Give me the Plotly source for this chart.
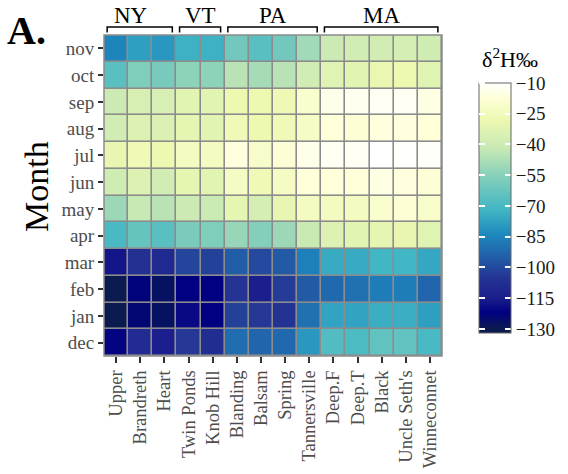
import plotly.graph_objects as go

# Sites (columns) grouped by state, months (rows, bottom to top)
sites = ["Upper", "Brandreth", "Heart", "Twin Ponds", "Knob Hill", "Blanding",
         "Balsam", "Spring", "Tannersville", "Deep.F", "Deep.T", "Black",
         "Uncle Seth's", "Winneconnet"]
months = ["dec", "jan", "feb", "mar", "apr", "may", "jun", "jul", "aug",
          "sep", "oct", "nov"]

states = ["NY", "VT", "PA", "MA"]
state_first = ["Upper", "Twin Ponds", "Blanding", "Deep.F"]
state_last = ["Heart", "Knob Hill", "Tannersville", "Winneconnet"]
state_label_shift = [-9, 0, 0, 0]

# Monthly precipitation d2H (per mil) by site
dec = [-121, -109, -115, -104, -108, -91, -93, -92, -80, -68, -69, -64, -64, -70]
jan = [-130, -124, -127, -120, -122, -102, -104, -106, -90, -77, -77, -74, -74, -78]
feb = [-130, -123, -127, -122, -122, -105, -115, -103, -96, -92, -90, -87, -87, -93]
mar = [-117, -107, -110, -101, -102, -95, -100, -96, -86, -75, -75, -72, -72, -76]
apr = [-70, -63, -66, -58, -57, -52, -56, -51, -41, -34, -32, -31, -30, -33]
may = [-51, -42, -45, -40, -40.5, -31, -37, -30, -24, -24, -24, -20, -18, -21]
jun = [-39, -34, -38, -31, -32, -23, -26, -23, -17, -17, -17, -15, -16, -18]
jul = [-30, -26, -28, -24, -24, -16, -21, -18, -14, -12, -12, -10, -10.5, -11]
aug = [-38, -34, -35, -31, -32, -26, -28, -26, -22, -17, -18, -16, -16, -17]
sep = [-40, -36, -36, -32, -32, -28, -28, -27, -20, -14, -13, -12, -12, -15]
oct = [-66, -57, -59, -54, -54, -45, -49, -45, -38, -33, -32, -29, -28, -33]
nov = [-85, -78, -80, -73, -73, -60, -66, -60, -50, -40, -38, -38, -37, -39]

z = [dec, jan, feb, mar, apr, may, jun, jul, aug, sep, oct, nov]

legend_ticks = [-10, -25, -40, -55, -70, -85, -100, -115, -130]
zmin, zmax = -132, -10

# Colour ramp anchored at d2H values
ramp = [(-132, "#0b1b4f"), (-130, "#0b1b4f"), (-122, "#000080"),
        (-115, "#1b1e8c"), (-105, "#253494"), (-95, "#225ea8"),
        (-84, "#1d88be"), (-72, "#41b6c4"), (-57, "#7fcdbb"),
        (-42, "#c7e9b4"), (-28, "#edf8b1"), (-17, "#ffffd9"), (-10, "#ffffff")]
colorscale = [[(v - zmin) / (zmax - zmin), c] for v, c in ramp]
clear_scale = [[0, "rgba(0,0,0,0)"], [1, "rgba(0,0,0,0)"]]

SERIF = "Liberation Serif"
W, H = 568, 474
ML, MR, MT, MB = 104, 126, 35, 118
PW, PH = W - ML - MR, H - MT - MB


def px_x(p):
    return (p - ML) / PW


def px_y(p):
    return (H - MB - p) / PH


cb_top, cb_len, cb_left, cb_thick = 83, 250, 479, 32
cb_y = px_y(cb_top + cb_len / 2)

fig = go.Figure(go.Heatmap(
    x=sites, y=months, z=z,
    zmin=zmin, zmax=zmax, colorscale=colorscale,
    xgap=1.6, ygap=1.6,
    colorbar=dict(
        thickness=cb_thick, thicknessmode="pixels",
        len=cb_len, lenmode="pixels",
        x=px_x(cb_left), xanchor="left", xpad=0,
        y=cb_y, yanchor="middle", ypad=0,
        outlinewidth=1, outlinecolor="#666666",
        tickmode="array", tickvals=legend_ticks,
        ticks="inside", ticklen=6, tickwidth=1.5, tickcolor="white",
        tickprefix="\u2002",
        tickfont=dict(family=SERIF, size=19, color="#1a1a1a"),
    ),
    hoverinfo="x+y+z",
))

# Second, see-through scale whose ticks mark the left edge of the legend bar
fig.add_trace(go.Scatter(
    x=[sites[0]], y=[months[0]], mode="markers", hoverinfo="skip", showlegend=False,
    marker=dict(color=[dec[0]], cmin=zmin, cmax=zmax, colorscale=clear_scale,
                opacity=0, showscale=True,
                colorbar=dict(
                    thickness=1, thicknessmode="pixels",
                    len=cb_len, lenmode="pixels",
                    x=px_x(cb_left - 1), xanchor="left", xpad=0,
                    y=cb_y, yanchor="middle", ypad=0,
                    outlinewidth=0, bgcolor="rgba(0,0,0,0)",
                    tickmode="array", tickvals=legend_ticks,
                    ticks="outside", ticklen=6, tickwidth=1.5, tickcolor="white",
                    showticklabels=False,
                )),
))

shapes = []
annotations = []

# State brackets above the columns
for st, a, b, dx in zip(states, state_first, state_last, state_label_shift):
    i0, i1 = sites.index(a), sites.index(b)
    x0, x1 = i0 - 0.5 + 0.13, i1 + 0.5 - 0.17
    ytop, ybot = px_y(27), px_y(32.5)
    shapes.append(dict(type="path", xref="x", yref="paper",
                       path=f"M {x0},{ybot} L {x0},{ytop} L {x1},{ytop} L {x1},{ybot}",
                       line=dict(color="black", width=1.5)))
    annotations.append(dict(x=(x0 + x1) / 2, y=px_y(30), xref="x", yref="paper",
                            text=st, showarrow=False, xanchor="center", yanchor="bottom",
                            xshift=dx,
                            font=dict(family=SERIF, size=23, color="black")))

# Panel outline
shapes.append(dict(type="rect", xref="paper", yref="paper", x0=0, x1=1, y0=0, y1=1,
                   line=dict(color="#8c8c8c", width=1.5), layer="above"))

annotations.append(dict(x=px_x(5), y=px_y(55), xref="paper", yref="paper",
                        text="<b>A.</b>", showarrow=False, xanchor="left", yanchor="bottom",
                        font=dict(family=SERIF, size=40, color="black")))
annotations.append(dict(x=px_x(36), y=px_y(187), xref="paper", yref="paper",
                        text="Month", textangle=-90, showarrow=False,
                        xanchor="center", yanchor="middle",
                        font=dict(family=SERIF, size=34, color="black")))
annotations.append(dict(x=px_x(510), y=px_y(74), xref="paper", yref="paper",
                        text="δ<sup>2</sup>H‰", showarrow=False,
                        xanchor="center", yanchor="bottom",
                        font=dict(family=SERIF, size=22, color="black")))

fig.update_layout(
    width=W, height=H,
    margin=dict(l=ML, r=MR, t=MT, b=MB, autoexpand=False),
    paper_bgcolor="white", plot_bgcolor="#8c8c8c",
    font=dict(family=SERIF),
    showlegend=False,
    shapes=shapes, annotations=annotations,
    xaxis=dict(type="category", categoryorder="array", categoryarray=sites,
               range=[-0.5, len(sites) - 0.5],
               tickangle=-90, ticks="outside", ticklen=6, tickwidth=2,
               tickcolor="#333333", showgrid=False, zeroline=False, showline=False,
               tickfont=dict(family=SERIF, size=18.5, color="#4d4d4d")),
    yaxis=dict(type="category", categoryorder="array", categoryarray=months,
               range=[-0.5, len(months) - 0.5],
               ticks="outside", ticklen=5, tickwidth=2,
               tickcolor="#333333", showgrid=False, zeroline=False, showline=False,
               tickfont=dict(family=SERIF, size=19, color="#4d4d4d")),
)

fig.write_html("out.html")
